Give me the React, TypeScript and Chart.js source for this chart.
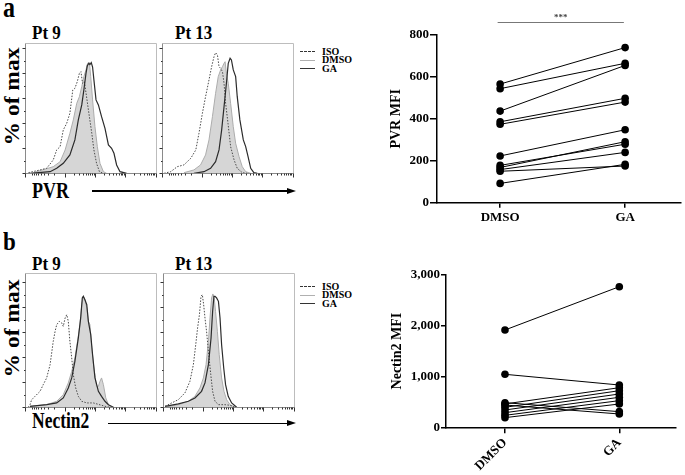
import React, { useEffect, useRef } from "react";
import { Chart, registerables } from "chart.js";
Chart.register(...registerables);

const FONT = "'Liberation Serif', 'Times New Roman', serif";
Chart.defaults.font.family = FONT;

type P = [number, number];

// ---- Flow histograms: [log10 fluorescence, % of max] ----
const PVR_PT9_ISO: P[] = [[0.13,0.5],[0.57,2.7],[0.82,4],[1.07,10.7],[1.2,18.7],[1.33,21.3],[1.45,34.7],[1.58,40],[1.7,48],[1.81,66.7],[1.89,68],[1.98,73.3],[2.06,80],[2.12,81.3],[2.18,72],[2.25,73.3],[2.34,60],[2.42,48],[2.53,32],[2.61,18.7],[2.71,8],[2.82,1.3],[2.97,0]];
const PVR_PT9_DMSO: P[] = [[0.32,0.5],[1.07,5.3],[1.33,9.3],[1.52,18.7],[1.7,32],[1.83,42.7],[1.96,56],[2.06,61.3],[2.15,69.3],[2.23,77.3],[2.31,82.7],[2.37,88],[2.44,88.5],[2.49,77.3],[2.56,58.7],[2.65,37.3],[2.74,21.3],[2.84,8],[2.97,1.3],[3.09,0]];
const PVR_PT9_GA: P[] = [[0.19,0],[0.95,1.3],[1.2,4],[1.45,8],[1.7,14.7],[1.89,26.7],[2.02,42.7],[2.15,54.7],[2.23,66.7],[2.31,80],[2.36,86],[2.42,88],[2.46,87],[2.51,88.5],[2.56,85],[2.61,74.7],[2.69,58.7],[2.78,54.7],[2.9,45.3],[3.03,36],[3.16,22.7],[3.28,20],[3.37,16],[3.47,6.7],[3.6,1.3],[3.85,0]];

const PVR_PT13_ISO: P[] = [[0.08,0],[0.33,1.3],[0.58,5.3],[0.83,6.7],[1.09,12],[1.28,18.7],[1.4,32],[1.53,48],[1.65,61.3],[1.78,74.7],[1.88,85.3],[1.97,93.3],[2.03,96.5],[2.1,94.7],[2.16,85.3],[2.22,84],[2.29,81.3],[2.35,72],[2.41,56],[2.5,40],[2.6,21.3],[2.73,10.7],[2.85,4],[3.04,0.5],[3.23,0]];
const PVR_PT13_DMSO: P[] = [[0.83,0.5],[1.21,2.7],[1.46,6.7],[1.65,14.7],[1.78,26.7],[1.91,45.3],[2.03,64],[2.13,77.3],[2.22,82.7],[2.29,85.3],[2.35,88],[2.39,89.3],[2.44,80],[2.51,72],[2.6,56],[2.7,37.3],[2.79,24],[2.92,13.3],[3.04,5.3],[3.17,1.3],[3.36,0]];
const PVR_PT13_GA: P[] = [[1.21,0],[1.59,1.3],[1.84,4],[2.03,9.3],[2.16,18.7],[2.26,34.7],[2.35,53.3],[2.44,72],[2.51,88],[2.58,92],[2.63,90.7],[2.7,82.7],[2.79,77.3],[2.85,61.3],[2.95,42.7],[3.08,26.7],[3.17,21.3],[3.26,13.3],[3.36,4],[3.48,0.5],[3.61,0]];

const NEC_PT9_ISO: P[] = [[0.12,0],[0.19,2],[0.25,6],[0.38,8.8],[0.57,12.8],[0.69,18.1],[0.82,23.5],[0.95,34.1],[1.07,52.8],[1.14,60.8],[1.2,66.1],[1.3,68.8],[1.39,67.5],[1.45,64.8],[1.52,71.5],[1.58,74.1],[1.64,68.8],[1.7,52.8],[1.77,39.5],[1.83,26.1],[1.92,15.5],[2.02,8.8],[2.15,4.8],[2.34,3.5],[2.59,3.5],[2.84,2],[3.03,0.8],[3.22,0]];
const NEC_PT9_DMSO: P[] = [[0.19,0.8],[0.82,2.1],[1.2,4.8],[1.45,10.1],[1.64,19.5],[1.77,28.8],[1.89,39.5],[1.99,52.8],[2.08,66.1],[2.15,82.1],[2.21,88.8],[2.27,86.1],[2.34,79.5],[2.4,68.8],[2.46,66.1],[2.53,47.5],[2.61,31.5],[2.71,16.8],[2.78,16.8],[2.84,20.8],[2.9,23.5],[2.97,18.1],[3.06,7.5],[3.16,2.1],[3.28,0]];
const NEC_PT9_GA: P[] = [[0.19,0.8],[0.82,2.1],[1.2,3.5],[1.45,7.5],[1.64,15.5],[1.77,23.5],[1.89,36.8],[2.02,55.5],[2.11,71.5],[2.17,87.5],[2.21,88.8],[2.27,86.1],[2.34,82.1],[2.4,68.8],[2.49,58.1],[2.56,42.1],[2.65,23.5],[2.78,12.8],[2.9,8.8],[3.03,4.8],[3.16,2.1],[3.35,0]];

const NEC_PT13_ISO: P[] = [[0.08,0.8],[0.33,3.5],[0.58,6.1],[0.83,11.5],[1.02,20.8],[1.15,34.1],[1.24,50.1],[1.31,63.5],[1.38,74.1],[1.44,88.8],[1.49,90.1],[1.54,82.1],[1.59,71.5],[1.65,60.8],[1.72,44.8],[1.81,26.1],[1.88,12.8],[1.97,4.8],[2.1,2.1],[2.35,2.1],[2.54,1.6],[2.73,0]];
const NEC_PT13_DMSO: P[] = [[0.08,0],[0.58,2.1],[0.96,4.8],[1.21,8.8],[1.4,15.5],[1.53,23.5],[1.63,34.1],[1.72,52.8],[1.78,71.5],[1.84,87.5],[1.89,90.7],[1.94,87.5],[1.99,76.8],[2.06,60.8],[2.13,42.1],[2.22,23.5],[2.31,12.8],[2.41,6.1],[2.54,2.1],[2.73,0]];
const NEC_PT13_GA: P[] = [[0.08,0.8],[0.58,2.7],[0.96,4.8],[1.21,7.5],[1.46,12.8],[1.59,19.5],[1.72,34.1],[1.82,55.5],[1.88,76.8],[1.93,88.8],[1.97,88.8],[2.03,87.5],[2.1,84.8],[2.16,71.5],[2.22,50.1],[2.3,31.5],[2.37,18.1],[2.47,8.8],[2.6,3.5],[2.79,0]];

// histogram axis ticks
const HIST_Y_MAJOR = [0, 20, 40, 60, 80, 100];
const HIST_Y_MINOR = [10, 30, 50, 70, 90];
const HIST_X_MAJOR = [0, 1.5, 2.65, 3.8, 4.95];
const HIST_DECADE = 1.15;

// ---- Paired MFI data ----
const CATEGORIES = ["DMSO", "GA"];
const PVR_DMSO = [566, 544, 437, 386, 374, 223, 178, 168, 158, 150, 92];
const PVR_GA = [740, 665, 655, 498, 480, 348, 279, 291, 240, 175, 183];
const NEC_DMSO = [1917, 1044, 485, 460, 439, 394, 341, 288, 236, 190];
const NEC_GA = [2770, 833, 308, 780, 262, 721, 656, 591, 525, 459];
const PVR_TICKS = { max: 800, step: 200 };
const NEC_TICKS = { max: 3000, step: 1000 };

const boxPlugin = {
  id: "histBox",
  afterDatasetsDraw(chart: any) {
    const { ctx, chartArea, scales } = chart;
    const l = Math.round(chartArea.left) + 0.5;
    const r = Math.round(chartArea.right) - 0.5;
    const t = Math.round(chartArea.top) + 0.5;
    const b = Math.round(chartArea.bottom) + 0.5;
    ctx.save();
    ctx.lineWidth = 1;
    ctx.strokeStyle = "#bdbdbd";
    ctx.beginPath();
    ctx.moveTo(l, t); ctx.lineTo(r, t); ctx.lineTo(r, b);
    ctx.stroke();
    ctx.strokeStyle = "#8a8a8a";
    ctx.beginPath();
    ctx.moveTo(l, t); ctx.lineTo(l, b); ctx.lineTo(r, b);
    ctx.stroke();
    ctx.strokeStyle = "#333";
    ctx.beginPath();
    HIST_Y_MAJOR.forEach((v) => {
      const y = Math.round(scales.y.getPixelForValue(v)) + 0.5;
      ctx.moveTo(l - 3, y); ctx.lineTo(l, y);
    });
    HIST_Y_MINOR.forEach((v) => {
      const y = Math.round(scales.y.getPixelForValue(v)) + 0.5;
      ctx.moveTo(l - 1.5, y); ctx.lineTo(l, y);
    });
    HIST_X_MAJOR.forEach((v) => {
      const x = Math.round(scales.x.getPixelForValue(v)) + 0.5;
      ctx.moveTo(x, b); ctx.lineTo(x, b + 4);
    });
    for (let i = 1; i < HIST_X_MAJOR.length - 1; i++) {
      const a = HIST_X_MAJOR[i];
      for (let k = 2; k <= 9; k++) {
        const v = a + HIST_DECADE * Math.log10(k);
        const x = Math.round(scales.x.getPixelForValue(v)) + 0.5;
        ctx.moveTo(x, b); ctx.lineTo(x, b + 2);
      }
    }
    for (let k = 2; k <= 9; k++) {
      const v = HIST_X_MAJOR[1] - 1.3 * Math.log10(k);
      const x = Math.round(scales.x.getPixelForValue(v)) + 0.5;
      ctx.moveTo(x, b); ctx.lineTo(x, b + 2);
    }
    ctx.stroke();
    ctx.restore();
  },
};

function Histogram(props: { left: number; top: number; width: number; height: number; pad: any; yMax: number; iso: P[]; dmso: P[]; ga: P[] }) {
  const ref = useRef<HTMLCanvasElement>(null);
  useEffect(() => {
    const pts = (a: P[]) => a.map(([x, y]) => ({ x, y }));
    const chart = new Chart(ref.current!, {
      type: "line",
      data: {
        datasets: [
          { label: "GA", data: pts(props.ga), borderColor: "#2b2b2b", borderWidth: 1.2, pointRadius: 0, fill: false, order: 1 },
          { label: "ISO", data: pts(props.iso), borderColor: "#4a4a4a", borderWidth: 1, borderDash: [1.5, 1.5], pointRadius: 0, fill: false, order: 2 },
          { label: "DMSO", data: pts(props.dmso), borderColor: "#adadad", backgroundColor: "#d6d6d6", borderWidth: 1, pointRadius: 0, fill: "origin", order: 3 },
        ],
      } as any,
      options: {
        animation: false,
        responsive: false,
        maintainAspectRatio: false,
        layout: { padding: props.pad },
        plugins: { legend: { display: false }, tooltip: { enabled: false } },
        scales: {
          x: { type: "linear", min: 0, max: 5, display: false },
          y: { type: "linear", min: 0, max: props.yMax, display: false },
        },
        elements: { line: { tension: 0 } },
      },
      plugins: [boxPlugin],
    });
    return () => chart.destroy();
  }, []);
  return <canvas ref={ref} width={props.width} height={props.height} style={{ position: "absolute", left: props.left, top: props.top, width: props.width, height: props.height }} />;
}

function DotPlot(props: {
  left: number; top: number; width: number; height: number; pad: any; yWidth: number; xHeight: number;
  xMin: number; xMax: number; yMax: number; yStep: number; dmso: number[]; ga: number[]; title: string;
  rotate: number; yTick: number; xTick: number; sig?: boolean;
}) {
  const ref = useRef<HTMLCanvasElement>(null);
  useEffect(() => {
    const datasets = props.dmso.map((d, i) => ({
      data: [{ x: 0, y: d }, { x: 1, y: props.ga[i] }],
      showLine: true,
      borderColor: "#000",
      borderWidth: 1,
      pointRadius: 3.8,
      pointBackgroundColor: "#000",
      pointBorderWidth: 0,
    }));
    const sigPlugin = {
      id: "sig",
      afterDraw(chart: any) {
        if (!props.sig) return;
        const { ctx, scales } = chart;
        const x0 = scales.x.getPixelForValue(-0.02);
        const x1 = scales.x.getPixelForValue(0.99);
        const y = Math.round(scales.y.getPixelForValue(860)) + 0.5;
        ctx.save();
        ctx.strokeStyle = "#777";
        ctx.lineWidth = 1;
        ctx.beginPath(); ctx.moveTo(x0, y); ctx.lineTo(x1, y); ctx.stroke();
        ctx.fillStyle = "#444";
        ctx.font = `bold 9px ${FONT}`;
        ctx.textAlign = "center";
        ctx.textBaseline = "alphabetic";
        ctx.fillText("***", (x0 + x1) / 2, y - 3);
        ctx.restore();
      },
    };
    const chart = new Chart(ref.current!, {
      type: "scatter",
      data: { datasets } as any,
      options: {
        animation: false,
        responsive: false,
        maintainAspectRatio: false,
        layout: { padding: props.pad },
        plugins: { legend: { display: false }, tooltip: { enabled: false } },
        scales: {
          x: {
            type: "linear",
            min: props.xMin,
            max: props.xMax,
            afterBuildTicks: (s: any) => { s.ticks = [{ value: 0 }, { value: 1 }]; },
            afterFit: (s: any) => { s.height = props.xHeight; },
            ticks: {
              callback: (v: any) => CATEGORIES[v as number] ?? "",
              font: { size: 13, weight: "bold" },
              color: "#000",
              padding: 2,
              minRotation: props.rotate,
              maxRotation: props.rotate,
              autoSkip: false,
            },
            grid: { drawOnChartArea: false, tickLength: props.xTick, color: "#000", lineWidth: 1.5 },
            border: { color: "#000", width: 1.5 },
          },
          y: {
            type: "linear",
            min: 0,
            max: props.yMax,
            afterFit: (s: any) => { s.width = props.yWidth; },
            ticks: { stepSize: props.yStep, font: { size: 13, weight: "bold" }, color: "#000", padding: 1 },
            grid: { drawOnChartArea: false, tickLength: props.yTick, color: "#000", lineWidth: 1.5 },
            border: { color: "#000", width: 1.5 },
            title: { display: true, text: props.title, font: { size: 14, weight: "bold" }, color: "#000", padding: 0 },
          },
        },
      } as any,
      plugins: [sigPlugin],
    });
    return () => chart.destroy();
  }, []);
  return <canvas ref={ref} width={props.width} height={props.height} style={{ position: "absolute", left: props.left, top: props.top, width: props.width, height: props.height }} />;
}

function Txt(props: { x: number; baseline: number; size: number; text: string; sy?: number; sx?: number }) {
  const fs = props.size;
  const asc = 0.8375 * fs;
  return (
    <div style={{
      position: "absolute", left: props.x, top: props.baseline - asc, fontSize: fs, lineHeight: `${fs}px`,
      fontWeight: "bold", fontFamily: FONT, whiteSpace: "nowrap", color: "#000",
      transform: `scale(${props.sx ?? 1}, ${props.sy ?? 1})`, transformOrigin: `0 ${asc}px`,
    }}>{props.text}</div>
  );
}

function VText(props: { cx: number; cy: number; size: number; text: string; stretch: number }) {
  const fs = props.size;
  return (
    <div style={{
      position: "absolute", left: props.cx - 70, top: props.cy - fs / 2, width: 140, height: fs,
      textAlign: "center", fontSize: fs, lineHeight: `${fs}px`, fontWeight: "bold", fontFamily: FONT,
      whiteSpace: "nowrap", color: "#000", transform: `rotate(-90deg) scaleX(${props.stretch})`,
    }}>{props.text}</div>
  );
}

function Arrow(props: { x0: number; x1: number; y: number }) {
  return (
    <>
      <div style={{ position: "absolute", left: props.x0, top: props.y - 0.65, width: props.x1 - props.x0 - 8, height: 1.3, background: "#000" }} />
      <div style={{ position: "absolute", left: props.x1 - 9, top: props.y - 3.5, width: 0, height: 0, borderLeft: "9px solid #000", borderTop: "3.5px solid transparent", borderBottom: "3.5px solid transparent" }} />
    </>
  );
}

function Legend(props: { y: number }) {
  const rows = [
    { t: "ISO", style: { borderTop: "1.3px dashed #333" } },
    { t: "DMSO", style: { borderTop: "1.3px solid #b0b0b0" } },
    { t: "GA", style: { borderTop: "1.8px solid #333" } },
  ];
  return (
    <>
      {rows.map((r, i) => {
        const y = props.y + i * 8.5;
        return (
          <React.Fragment key={r.t}>
            <div style={{ position: "absolute", left: 300, top: y - 0.7, width: 15, height: 0, ...r.style }} />
            <Txt x={322} baseline={y + 3.4} size={10} text={r.t} />
          </React.Fragment>
        );
      })}
    </>
  );
}

export default function App() {
  return (
    <div style={{ position: "absolute", left: 0, top: 0, width: 685, height: 475, background: "#fff", overflow: "hidden", fontFamily: FONT }}>
      <Txt x={3} baseline={17.3} size={24} sy={1.2} text="a" />
      <Txt x={3} baseline={250.5} size={23} sy={1.1} text="b" />

      <Txt x={32} baseline={39} size={17} sy={1.1} text="Pt 9" />
      <Txt x={175} baseline={39} size={17} sy={1.1} text="Pt 13" />
      <Txt x={32} baseline={270} size={17} sy={1.1} text="Pt 9" />
      <Txt x={175} baseline={270} size={17} sy={1.1} text="Pt 13" />

      <VText cx={12} cy={96.7} size={21} stretch={1.12} text="% of max" />
      <VText cx={12} cy={328.3} size={21} stretch={1.12} text="% of max" />

      <Txt x={32} baseline={198.3} size={18} sy={1.3} text="PVR" />
      <Arrow x0={92} x1={296} y={191} />
      <Txt x={32} baseline={428.3} size={17.5} sy={1.3} text="Nectin2" />
      <Arrow x0={108} x1={296} y={423.3} />

      <Legend y={51.7} />
      <Legend y={286.7} />

      <Histogram left={15} top={40} width={150} height={142} pad={{ left: 10, top: 3, right: 8, bottom: 8.7 }} yMax={104.24} iso={PVR_PT9_ISO} dmso={PVR_PT9_DMSO} ga={PVR_PT9_GA} />
      <Histogram left={152} top={40} width={150} height={142} pad={{ left: 10, top: 3, right: 8, bottom: 8.7 }} yMax={104.24} iso={PVR_PT13_ISO} dmso={PVR_PT13_DMSO} ga={PVR_PT13_GA} />
      <Histogram left={15} top={268} width={150} height={148} pad={{ left: 10, top: 4.7, right: 8, bottom: 8.7 }} yMax={107.7} iso={NEC_PT9_ISO} dmso={NEC_PT9_DMSO} ga={NEC_PT9_GA} />
      <Histogram left={153} top={268} width={150} height={148} pad={{ left: 10, top: 4.7, right: 8, bottom: 8.7 }} yMax={107.7} iso={NEC_PT13_ISO} dmso={NEC_PT13_DMSO} ga={NEC_PT13_GA} />

      <DotPlot left={370} top={0} width={315} height={230} pad={{ left: 18.3, top: 35, right: 2, bottom: 0 }} yWidth={48.7} xHeight={27.3}
        xMin={-0.505} xMax={1.447} yMax={PVR_TICKS.max} yStep={PVR_TICKS.step} dmso={PVR_DMSO} ga={PVR_GA} title="PVR MFI"
        rotate={0} yTick={7} xTick={5} sig />
      <DotPlot left={370} top={230} width={315} height={245} pad={{ left: 18.8, top: 45, right: 9, bottom: 0 }} yWidth={57.2} xHeight={47.7}
        xMin={-0.516} xMax={1.496} yMax={NEC_TICKS.max} yStep={NEC_TICKS.step} dmso={NEC_DMSO} ga={NEC_GA} title="Nectin2 MFI"
        rotate={45} yTick={5} xTick={6} />
    </div>
  );
}
